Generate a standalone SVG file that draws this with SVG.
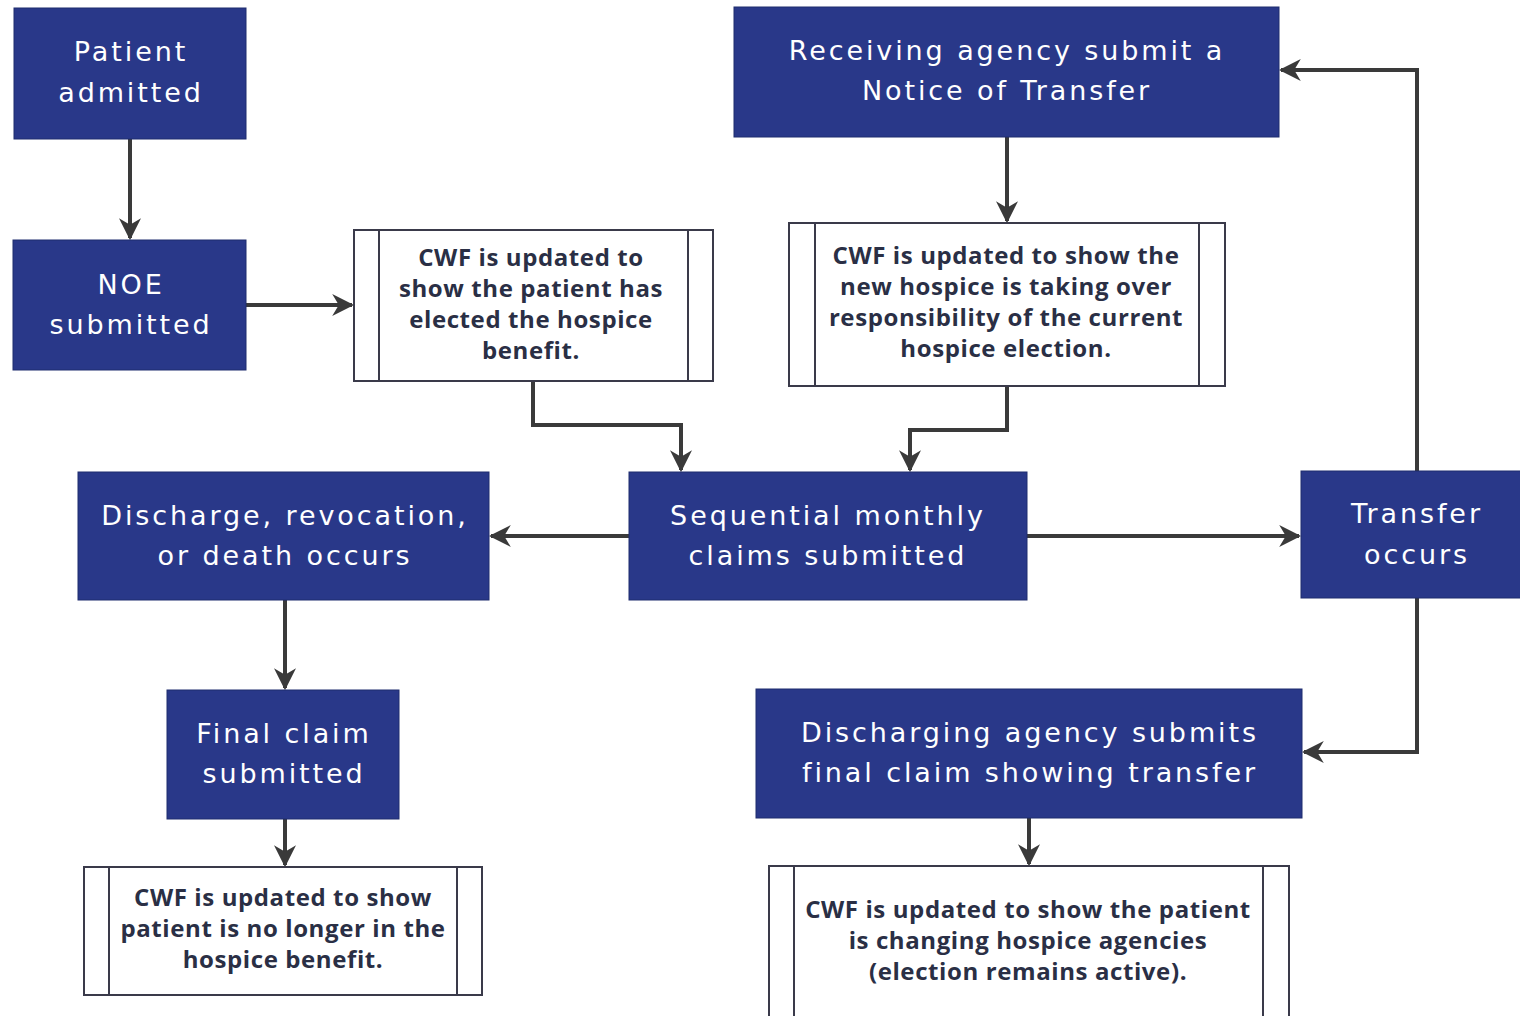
<svg xmlns="http://www.w3.org/2000/svg" width="1520" height="1016" viewBox="0 0 1520 1016">
<defs>
<marker id="ah" viewBox="0 0 10 10" refX="9" refY="5" markerWidth="5.5" markerHeight="5.5" orient="auto" markerUnits="strokeWidth">
<path d="M0,0 L10,5 L0,10 L3,5 z" fill="#3a3a3a"/>
</marker>
<style>
.blue{fill:#293889;stroke:#1f2c6e;stroke-width:1}
.bt{font-family:"DejaVu Sans","Liberation Sans",sans-serif;font-size:27px;fill:#ffffff;text-anchor:middle;letter-spacing:2.9px}
.proc{fill:#ffffff;stroke:#3a3a4a;stroke-width:2}
.ct{font-family:"Open Sans","Liberation Sans",sans-serif;font-weight:700;font-size:24px;fill:#2a2f45;text-anchor:middle;letter-spacing:0.6px}
.conn{fill:none;stroke:#3a3a3a;stroke-width:4;marker-end:url(#ah)}
</style>
</defs>
<rect width="1520" height="1016" fill="#ffffff"/>

<g id="connectors">
<path class="conn" d="M130,139 V238"/>
<path class="conn" d="M246,305 H352"/>
<path class="conn" d="M533,381 V425 H681 V470"/>
<path class="conn" d="M1007,137 V221"/>
<path class="conn" d="M1007,386 V430 H910 V470"/>
<path class="conn" d="M629,536 H491"/>
<path class="conn" d="M1027,536 H1299"/>
<path class="conn" d="M1417,471 V70 H1281"/>
<path class="conn" d="M1417,598 V752 H1304"/>
<path class="conn" d="M285,600 V688"/>
<path class="conn" d="M285,819 V865"/>
<path class="conn" d="M1029,818 V864"/>
</g>

<g id="patient-admitted">
<rect class="blue" x="14" y="8" width="232" height="131"/>
<text class="bt" x="131" y="61">Patient</text>
<text class="bt" x="131" y="102">admitted</text>
</g>

<g id="noe-submitted">
<rect class="blue" x="13" y="240" width="233" height="130"/>
<text class="bt" x="131" y="294">NOE</text>
<text class="bt" x="131" y="334">submitted</text>
</g>

<g id="cwf-elected">
<rect class="proc" x="354" y="230" width="359" height="151"/>
<line class="proc" x1="379" y1="230" x2="379" y2="381"/>
<line class="proc" x1="688" y1="230" x2="688" y2="381"/>
<text class="ct" x="531" y="266">CWF is updated to</text>
<text class="ct" x="531" y="297">show the patient has</text>
<text class="ct" x="531" y="328">elected the hospice</text>
<text class="ct" x="531" y="359">benefit.</text>
</g>

<g id="receiving-agency">
<rect class="blue" x="734" y="7" width="545" height="130"/>
<text class="bt" x="1007" y="60">Receiving agency submit a</text>
<text class="bt" x="1007" y="100">Notice of Transfer</text>
</g>

<g id="cwf-new-hospice">
<rect class="proc" x="789" y="223" width="436" height="163"/>
<line class="proc" x1="815" y1="223" x2="815" y2="386"/>
<line class="proc" x1="1199" y1="223" x2="1199" y2="386"/>
<text class="ct" x="1006" y="264">CWF is updated to show the</text>
<text class="ct" x="1006" y="295">new hospice is taking over</text>
<text class="ct" x="1006" y="326">responsibility of the current</text>
<text class="ct" x="1006" y="357">hospice election.</text>
</g>

<g id="discharge-revocation">
<rect class="blue" x="78" y="472" width="411" height="128"/>
<text class="bt" x="285" y="525">Discharge, revocation,</text>
<text class="bt" x="285" y="565">or death occurs</text>
</g>

<g id="sequential-claims">
<rect class="blue" x="629" y="472" width="398" height="128"/>
<text class="bt" x="828" y="525">Sequential monthly</text>
<text class="bt" x="828" y="565">claims submitted</text>
</g>

<g id="transfer-occurs">
<rect class="blue" x="1301" y="471" width="231" height="127"/>
<text class="bt" x="1417" y="523">Transfer</text>
<text class="bt" x="1417" y="564">occurs</text>
</g>

<g id="final-claim">
<rect class="blue" x="167" y="690" width="232" height="129"/>
<text class="bt" x="284" y="743">Final claim</text>
<text class="bt" x="284" y="783">submitted</text>
</g>

<g id="discharging-agency">
<rect class="blue" x="756" y="689" width="546" height="129"/>
<text class="bt" x="1030" y="742">Discharging agency submits</text>
<text class="bt" x="1030" y="782">final claim showing transfer</text>
</g>

<g id="cwf-no-longer">
<rect class="proc" x="84" y="867" width="398" height="128"/>
<line class="proc" x1="109" y1="867" x2="109" y2="995"/>
<line class="proc" x1="457" y1="867" x2="457" y2="995"/>
<text class="ct" x="283" y="906">CWF is updated to show</text>
<text class="ct" x="283" y="937">patient is no longer in the</text>
<text class="ct" x="283" y="968">hospice benefit.</text>
</g>

<g id="cwf-changing">
<rect class="proc" x="769" y="866" width="520" height="160"/>
<line class="proc" x1="794" y1="866" x2="794" y2="1026"/>
<line class="proc" x1="1263" y1="866" x2="1263" y2="1026"/>
<text class="ct" x="1028" y="918">CWF is updated to show the patient</text>
<text class="ct" x="1028" y="949">is changing hospice agencies</text>
<text class="ct" x="1028" y="980">(election remains active).</text>
</g>
</svg>
